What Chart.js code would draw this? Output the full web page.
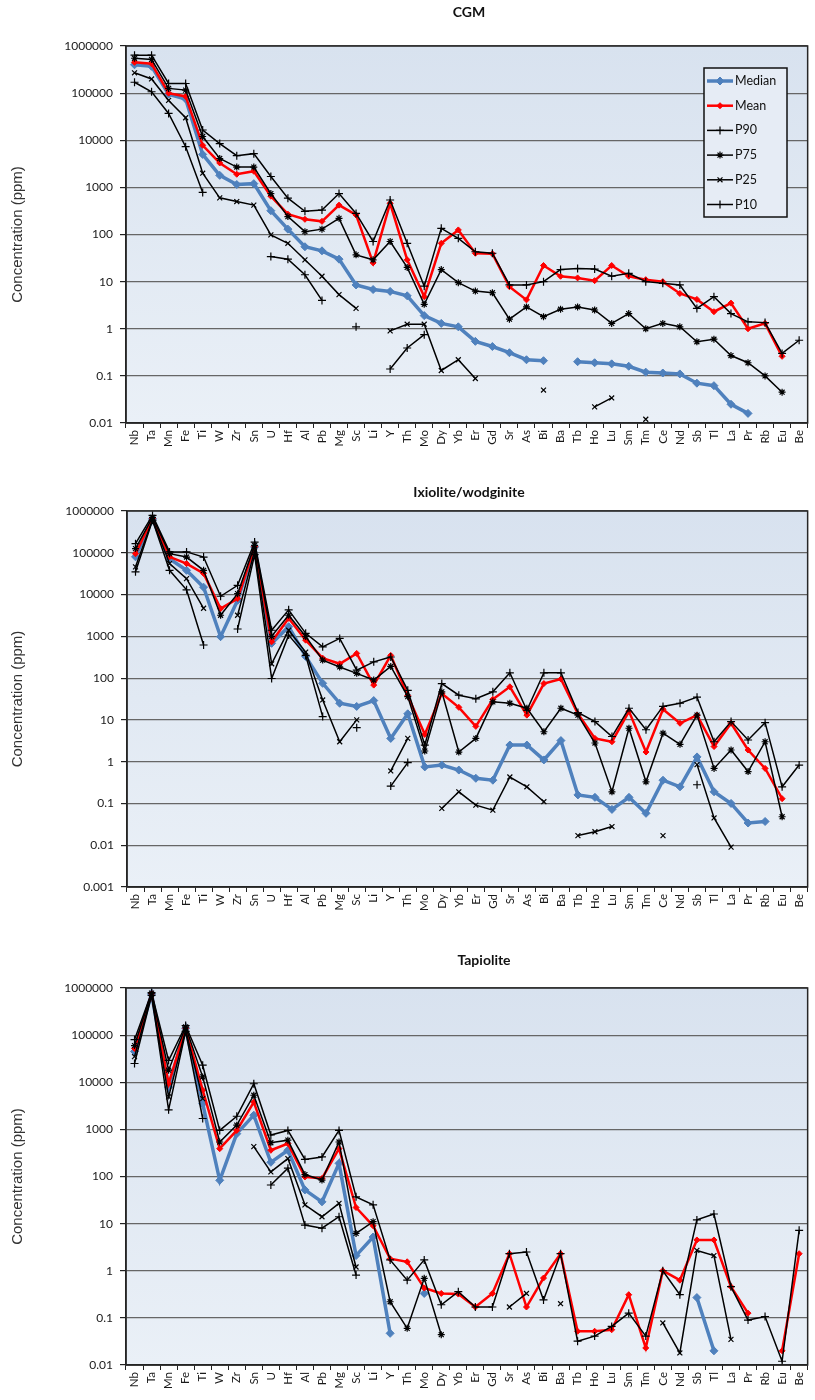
<!DOCTYPE html>
<html>
<head>
<meta charset="utf-8">
<script src="https://cdn.jsdelivr.net/npm/chart.js@4.4.1/dist/chart.umd.min.js"></script>
<style>
  html, body { margin: 0; padding: 0; background: #ffffff; }
  #wrap { position: relative; width: 815px; height: 1400px; }
  canvas { position: absolute; left: 0; }
</style>
</head>
<body>
<div id="wrap">
  <canvas id="cgm" width="815" height="460" style="top:0px;width:815px;height:460px"></canvas>
  <canvas id="ixw" width="815" height="470" style="top:460px;width:815px;height:470px"></canvas>
  <canvas id="tap" width="815" height="470" style="top:930px;width:815px;height:470px"></canvas>
</div>
<script>
// Element order along the x axis (same for all three mineral groups)
const elements = ['Nb','Ta','Mn','Fe','Ti','W','Zr','Sn','U','Hf','Al','Pb','Mg','Sc','Li','Y','Th','Mo','Dy','Yb',
                  'Er','Gd','Sr','As','Bi','Ba','Tb','Ho','Lu','Sm','Tm','Ce','Nd','Sb','Tl','La','Pr','Rb','Eu','Be'];

// Decade ticks of the log axes
const ticksMain = [0.01, 0.1, 1, 10, 100, 1000, 10000, 100000, 1000000];
const ticksIxw  = [0.001, 0.01, 0.1, 1, 10, 100, 1000, 10000, 100000, 1000000];

// CGM (ppm); null = not reported
const cgmMedian = [400000,370000,95000,75000,5000,1800,1150,1200,320,130,55,45,30,8.5,6.8,6.2,5,1.9,1.3,1.1,
                   0.54,0.42,0.31,0.22,0.21,null,0.2,0.19,0.18,0.16,0.12,0.115,0.11,0.07,0.062,0.025,0.016,null,null,null];
const cgmMean   = [450000,420000,100000,85000,7800,3300,1900,2200,650,270,210,190,420,260,25,460,29,4.8,65,125,
                   40,39,7.8,4.1,22,13,12,10.5,22,13,11,10,5.6,4.2,2.3,3.5,1.0,1.3,0.26,null];
const cgmP90    = [640000,640000,160000,160000,16500,8500,4700,5200,1700,590,310,330,740,280,71,540,65,8,135,83,
                   43,40,8.5,8.5,10,18,19,18.5,13,15,10,9.2,8.5,2.7,4.8,2.1,1.4,1.35,0.3,0.57];
const cgmP75    = [550000,520000,126000,116000,12000,4100,2700,2700,740,240,115,130,220,37,29,71,20,3.3,18,9.5,
                   6.3,5.8,1.6,2.9,1.8,2.6,2.9,2.5,1.3,2.1,1.0,1.3,1.1,0.53,0.6,0.27,0.19,0.1,0.045,null];
const cgmP25    = [270000,200000,70000,30000,2000,600,500,420,98,65,29,13,5.3,2.7,null,0.9,1.25,1.25,0.13,0.22,
                   0.088,null,null,null,0.05,null,null,0.022,0.034,null,0.012,null,null,null,null,null,null,null,null,null];
const cgmP10    = [170000,107000,37000,7300,780,null,null,null,34,30,14,4,null,1.1,null,0.14,0.39,0.75,null,null,
                   null,null,null,null,null,null,null,null,null,null,null,null,null,null,null,null,null,null,null,null];

// Ixiolite / wodginite (ppm)
const ixwMedian = [80000,650000,72000,38000,15000,980,7300,138000,680,1700,330,75,25,21,29,3.6,14,0.75,0.83,0.63,
                   0.4,0.36,2.5,2.5,1.1,3.2,0.16,0.14,0.072,0.14,0.058,0.36,0.25,1.3,0.19,0.1,0.034,0.037,null,null];
const ixwMean   = [95000,660000,80000,55000,32000,4600,8000,140000,740,2700,810,300,220,390,68,350,38,4.5,43,20,
                   7,31,62,13,74,95,14,3.6,3.0,16,1.7,18,8.3,13,2.3,8.3,1.9,0.69,0.13,null];
const ixwP90    = [165000,790000,105000,105000,79000,9100,16600,180000,1400,4300,1180,560,890,155,245,320,51,2.5,74,39,
                   32,47,134,17,134,134,15,9.1,4,19,5.8,21,25,35,3,9.1,3.3,8.6,0.25,0.83];
const ixwP75    = [126000,700000,95000,79000,38000,3200,10500,150000,1000,3200,990,270,185,130,90,190,36,1.8,47,1.7,
                   3.6,27,25,19,5.2,19,13,2.8,0.19,6.3,0.33,4.8,2.6,13,0.69,1.9,0.58,3,0.048,null];
const ixwP25    = [46000,620000,55000,24000,4700,null,3200,110000,220,1400,420,30,3,10,null,0.6,3.6,null,0.076,0.19,
                   0.091,0.069,0.43,0.25,0.11,null,0.017,0.021,0.028,null,null,0.017,null,0.85,0.045,0.009,null,null,null,null];
const ixwP10    = [35000,600000,38000,13000,620,null,1500,90000,98,1070,350,12,null,6.5,null,0.26,0.95,null,null,null,
                   null,null,null,null,null,null,null,null,null,null,null,null,null,0.28,null,null,null,null,null,null];

// Tapiolite (ppm)
const tapMedian = [45000,750000,7900,140000,3500,83,810,2000,200,360,52,29,190,2.1,5.2,0.047,null,0.33,null,null,
                   null,null,null,null,null,null,null,null,null,null,null,null,null,0.27,0.02,null,null,null,null,null];
const tapMean   = [52000,760000,9300,140000,6800,390,950,3800,360,500,98,91,390,22,9,1.8,1.55,0.43,0.33,0.32,
                   0.17,0.33,2.3,0.17,0.7,2.3,0.052,0.052,0.056,0.31,0.023,1.0,0.63,4.5,4.5,0.46,0.126,null,0.02,2.3];
const tapP90    = [80000,800000,29000,160000,23000,950,1900,9300,760,950,230,260,950,37,25,1.7,0.63,1.7,0.19,0.36,
                   0.17,0.17,2.3,2.5,0.24,2.3,0.032,0.041,0.066,0.126,0.041,1.0,0.31,12,16,0.46,0.09,0.107,0.012,7.2];
const tapP75    = [60000,780000,18000,150000,13000,540,1230,5300,520,590,110,84,540,6.2,11,0.22,0.06,0.69,0.044,null,
                   null,null,null,null,null,null,null,null,null,null,null,null,null,null,null,null,null,null,null,null];
const tapP25    = [35000,720000,4900,130000,4500,null,null,430,125,240,25,14,27,1.2,null,null,null,null,null,null,
                   null,null,0.17,0.33,null,0.2,null,null,null,null,null,0.078,0.018,2.7,2.1,0.035,null,null,null,null];
const tapP10    = [25000,700000,2600,120000,1700,null,null,null,66,150,9.3,8,14,0.81,null,null,null,null,null,null,
                   null,null,null,null,null,null,null,null,null,null,null,null,null,null,null,null,null,null,null,null];

Chart.defaults.font.family = 'Lato, "Open Sans", sans-serif';
Chart.defaults.color = '#1a1a1a';

const BLUE = '#4f81bd';
const RED = '#ff0000';
const BLACK = '#000000';

function buildDatasets(median, mean, p90, p75, p25, p10) {
  const black = (label, data, style, r, order) => ({
    label, data, order,
    borderColor: BLACK, borderWidth: 1.5,
    pointStyle: style, pointRadius: r, pointBorderWidth: 1.2,
    pointBackgroundColor: BLACK, pointBorderColor: BLACK,
    tension: 0, spanGaps: false
  });
  return [
    { label: 'Median', data: median, order: 6, borderColor: BLUE, borderWidth: 3.5,
      pointStyle: 'rectRot', pointRadius: 4, pointBorderWidth: 1,
      pointBackgroundColor: BLUE, pointBorderColor: BLUE, tension: 0, spanGaps: false },
    { label: 'Mean', data: mean, order: 5, borderColor: RED, borderWidth: 2.5,
      pointStyle: 'rectRot', pointRadius: 3, pointBorderWidth: 1,
      pointBackgroundColor: RED, pointBorderColor: RED, tension: 0, spanGaps: false },
    black('P90', p90, 'cross', 4, 4),
    black('P75', p75, 'star', 3.5, 3),
    black('P25', p25, 'crossRot', 3.5, 2),
    black('P10', p10, 'cross', 4, 1)
  ];
}

function decadeLabel(v) {
  return v >= 1 ? v.toFixed(0) : String(Number(v.toPrecision(1)));
}

// Light blue plot background and dark frame
const plotFrame = {
  id: 'plotFrame',
  beforeDraw(chart) {
    const { ctx, chartArea: a } = chart;
    const g = ctx.createLinearGradient(0, a.top, 0, a.bottom);
    g.addColorStop(0, '#d8e2ef');
    g.addColorStop(1, '#eaf0f7');
    ctx.save();
    ctx.fillStyle = g;
    ctx.fillRect(a.left, a.top, a.right - a.left, a.bottom - a.top);
    ctx.restore();
  },
  afterDraw(chart) {
    const { ctx, chartArea: a } = chart;
    ctx.save();
    ctx.strokeStyle = '#262626';
    ctx.lineWidth = 1.5;
    ctx.strokeRect(a.left, a.top, a.right - a.left, a.bottom - a.top);
    ctx.restore();
  }
};

// Bold panel heading
const panelTitle = {
  id: 'panelTitle',
  afterDraw(chart, args, opts) {
    if (!opts || !opts.text) return;
    const ctx = chart.ctx;
    ctx.save();
    ctx.font = 'bold 14px Lato, "Open Sans", sans-serif';
    ctx.fillStyle = '#111111';
    ctx.textAlign = 'center';
    ctx.textBaseline = 'middle';
    ctx.fillText(opts.text, opts.x, opts.y);
    ctx.restore();
  }
};

// Boxed series key drawn inside the plot area
const insideLegend = {
  id: 'insideLegend',
  afterDraw(chart, args, opts) {
    if (!opts || !opts.display) return;
    const ctx = chart.ctx;
    const { x, y, w, h, firstRow, rowGap } = opts;
    ctx.save();
    ctx.fillStyle = '#e6ecf5';
    ctx.fillRect(x, y, w, h);
    ctx.strokeStyle = '#111111';
    ctx.lineWidth = 1.5;
    ctx.strokeRect(x, y, w, h);
    chart.data.datasets.forEach((ds, i) => {
      const cy = y + firstRow + i * rowGap;
      ctx.strokeStyle = ds.borderColor;
      ctx.lineWidth = ds.borderWidth;
      ctx.beginPath();
      ctx.moveTo(x + 3, cy);
      ctx.lineTo(x + 29, cy);
      ctx.stroke();
      ctx.fillStyle = ds.pointBackgroundColor;
      ctx.strokeStyle = ds.pointBorderColor;
      ctx.lineWidth = ds.pointBorderWidth || 1;
      Chart.helpers.drawPoint(ctx, { pointStyle: ds.pointStyle, radius: ds.pointRadius,
                                     borderWidth: ds.pointBorderWidth || 1, rotation: 0 }, x + 16, cy);
      ctx.fillStyle = '#111111';
      ctx.font = '12.5px Lato, "Open Sans", sans-serif';
      ctx.textAlign = 'left';
      ctx.textBaseline = 'middle';
      ctx.fillText(ds.label, x + 31, cy);
    });
    ctx.restore();
  }
};

function makePanel(id, cfg) {
  const tickList = cfg.ticks;
  return new Chart(document.getElementById(id), {
    type: 'line',
    data: { labels: elements, datasets: cfg.datasets },
    plugins: [plotFrame, panelTitle, insideLegend],
    options: {
      responsive: false,
      animation: false,
      devicePixelRatio: 1,
      layout: { padding: { top: cfg.padTop, right: cfg.padRight, left: 0, bottom: 0 } },
      plugins: {
        legend: { display: false },
        tooltip: { enabled: false },
        panelTitle: { text: cfg.title, x: cfg.titleX, y: cfg.titleY },
        insideLegend: cfg.legend || { display: false }
      },
      scales: {
        x: {
          type: 'category',
          offset: true,
          grid: { display: true, drawOnChartArea: false, drawTicks: true, tickLength: 5,
                  offset: true, color: '#222222', lineWidth: 1 },
          border: { display: true, color: '#222222', width: 1.5 },
          ticks: { autoSkip: false, maxRotation: 90, minRotation: 90, padding: 2,
                   color: '#1a1a1a', font: { size: 11.5 } },
          afterFit(s) { s.height = cfg.xHeight; }
        },
        y: {
          type: 'logarithmic',
          min: tickList[0],
          max: tickList[tickList.length - 1],
          afterBuildTicks(s) { s.ticks = tickList.map(v => ({ value: v })); },
          ticks: { callback: v => decadeLabel(v), padding: 7, color: '#1a1a1a', font: { size: 12 } },
          grid: { color: '#666666', lineWidth: 1.2, drawTicks: true, tickLength: 6, tickColor: '#222222' },
          border: { display: true, color: '#222222', width: 1.5 },
          title: { display: true, text: 'Concentration (ppm)', color: '#333333',
                   font: { family: '"Liberation Sans", Arial, sans-serif', size: 15 },
                   padding: { top: 9, bottom: 0 } },
          afterFit(s) { s.width = cfg.yWidth; }
        }
      }
    }
  });
}

makePanel('cgm', {
  datasets: buildDatasets(cgmMedian, cgmMean, cgmP90, cgmP75, cgmP25, cgmP10),
  ticks: ticksMain, padTop: 46, padRight: 3, xHeight: 37, yWidth: 126,
  title: 'CGM', titleX: 469, titleY: 12,
  legend: { display: true, x: 704, y: 68, w: 83, h: 149, firstRow: 13, rowGap: 24.7 }
});

makePanel('ixw', {
  datasets: buildDatasets(ixwMedian, ixwMean, ixwP90, ixwP75, ixwP25, ixwP10),
  ticks: ticksIxw, padTop: 51, padRight: 3, xHeight: 43, yWidth: 127,
  title: 'Ixiolite/wodginite', titleX: 469, titleY: 32
});

makePanel('tap', {
  datasets: buildDatasets(tapMedian, tapMean, tapP90, tapP75, tapP25, tapP10),
  ticks: ticksMain, padTop: 58, padRight: 5, xHeight: 35, yWidth: 126,
  title: 'Tapiolite', titleX: 484, titleY: 30
});
</script>
</body>
</html>
